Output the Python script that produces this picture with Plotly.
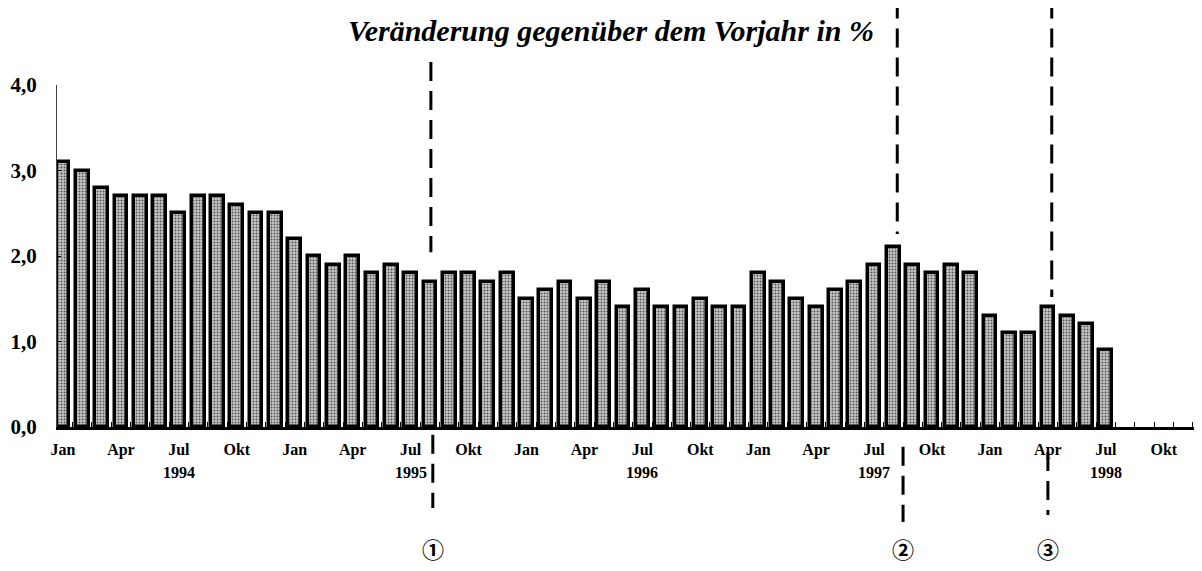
import plotly.graph_objects as go

months = ["Jan", "Feb", "Mär", "Apr", "Mai", "Jun", "Jul", "Aug", "Sep", "Okt", "Nov", "Dez"]
years = [1994, 1995, 1996, 1997, 1998]

values = [
    3.1, 3.0, 2.8, 2.7, 2.7, 2.7, 2.5, 2.7, 2.7, 2.6, 2.5, 2.5,   # 1994
    2.2, 2.0, 1.9, 2.0, 1.8, 1.9, 1.8, 1.7, 1.8, 1.8, 1.7, 1.8,   # 1995
    1.5, 1.6, 1.7, 1.5, 1.7, 1.4, 1.6, 1.4, 1.4, 1.5, 1.4, 1.4,   # 1996
    1.8, 1.7, 1.5, 1.4, 1.6, 1.7, 1.9, 2.1, 1.9, 1.8, 1.9, 1.8,   # 1997
    1.3, 1.1, 1.1, 1.4, 1.3, 1.2, 0.9,                            # 1998
]
x_idx = list(range(len(values)))
n_months = len(years) * 12

tick_months = ["Jan", "Apr", "Jul", "Okt"]
tick_vals = list(range(0, n_months, 3))
tick_text = [tick_months[(i // 3) % 4] for i in tick_vals]
year_pos = [y_i * 12 + 6 for y_i in range(len(years))]  # under "Jul"

y_ticks = [0, 1, 2, 3, 4]
y_text = ["0,0", "1,0", "2,0", "3,0", "4,0"]

# event markers (position in month index), segments in paper coords
events = ["①", "②", "③"]
event_x_top = [19.05, 43.2, 51.2]
event_x_bottom = [19.15, 43.5, 51.0]
event_top = [(1.067, 0.511), (1.25, 0.564), (1.25, 0.38)]
event_bottom = [(-0.023, -0.237), (-0.058, -0.278), (-0.073, -0.257)]

title = "Veränderung gegenüber dem Vorjahr in %"

# page has an 8px body margin: plot area should span x 57..1202, y 85..427 in the window
OFF = 8
PLOT_L, PLOT_R, PLOT_T, PLOT_B = 57, 1202, 85, 427
W, H = 1202 - OFF, 571 - OFF
plot_w = PLOT_R - PLOT_L
plot_h = PLOT_B - PLOT_T

fig = go.Figure()
fig.add_trace(go.Bar(
    x=x_idx, y=values, width=0.66,
    marker=dict(
        color="#bdbdbd",
        line=dict(color="black", width=3.5),
        pattern=dict(shape=".", size=3, solidity=0.35, fgcolor="#555555",
                     bgcolor="#c8c8c8", fillmode="replace"),
    ),
    showlegend=False,
))

serif = "Liberation Serif, Times New Roman, serif"

shapes = []
for xt, xb, (t0, t1), (b0, b1) in zip(event_x_top, event_x_bottom, event_top, event_bottom):
    for ex, a, b in [(xt, t0, t1), (xb, b0, b1)]:
        shapes.append(dict(type="line", xref="x", yref="paper", x0=ex, x1=ex, y0=a, y1=b,
                           line=dict(color="black", width=3, dash="19px,10px")))

annotations = []
for i, yp in enumerate(year_pos):
    annotations.append(dict(x=yp, y=(PLOT_B - 472) / plot_h, xref="x", yref="paper",
                            text=f"<b>{years[i]}</b>",
                            showarrow=False, font=dict(family=serif, size=16, color="black"),
                            yanchor="middle"))
for lab, ex in zip(events, event_x_bottom):
    annotations.append(dict(x=ex, y=(PLOT_B - 548) / plot_h, xref="x", yref="paper",
                            text=f"<b>{lab}</b>", showarrow=False,
                            font=dict(family="Noto Sans CJK JP", size=22, color="black"),
                            yanchor="middle"))
annotations.append(dict(x=(611 - PLOT_L) / plot_w, y=(PLOT_B - 30) / plot_h,
                        xref="paper", yref="paper",
                        text=f"<b><i>{title}</i></b>", showarrow=False, yanchor="middle",
                        font=dict(family=serif, size=30, color="black")))

fig.update_layout(
    width=W, height=H,
    margin=dict(l=PLOT_L - OFF, r=W - (PLOT_R - OFF), t=PLOT_T - OFF, b=H - (PLOT_B - OFF)),
    paper_bgcolor="white", plot_bgcolor="white",
    shapes=shapes, annotations=annotations,
    bargap=0,
    xaxis=dict(
        range=[-0.31, 58.98],
        tickvals=tick_vals, ticktext=[f"<b>{t}</b>" for t in tick_text],
        ticks="", showgrid=False, zeroline=False,
        showline=True, linecolor="black", linewidth=3,
        tickfont=dict(family=serif, size=16, color="black"),
        ticklabelstandoff=6,
        minor=dict(tickvals=[k - 0.5 for k in range(n_months + 1)], ticks="inside",
                   ticklen=5, tickcolor="black", tickwidth=1),
    ),
    yaxis=dict(
        range=[0, 4], tickvals=y_ticks, ticktext=[f"<b>{t}</b>" for t in y_text],
        ticks="inside", ticklen=4, tickcolor="black",
        showgrid=False, zeroline=False,
        showline=True, linecolor="#444444", linewidth=1,
        tickfont=dict(family=serif, size=21, color="black"),
        ticklabelstandoff=15,
    ),
)

fig.write_html("out.html")
